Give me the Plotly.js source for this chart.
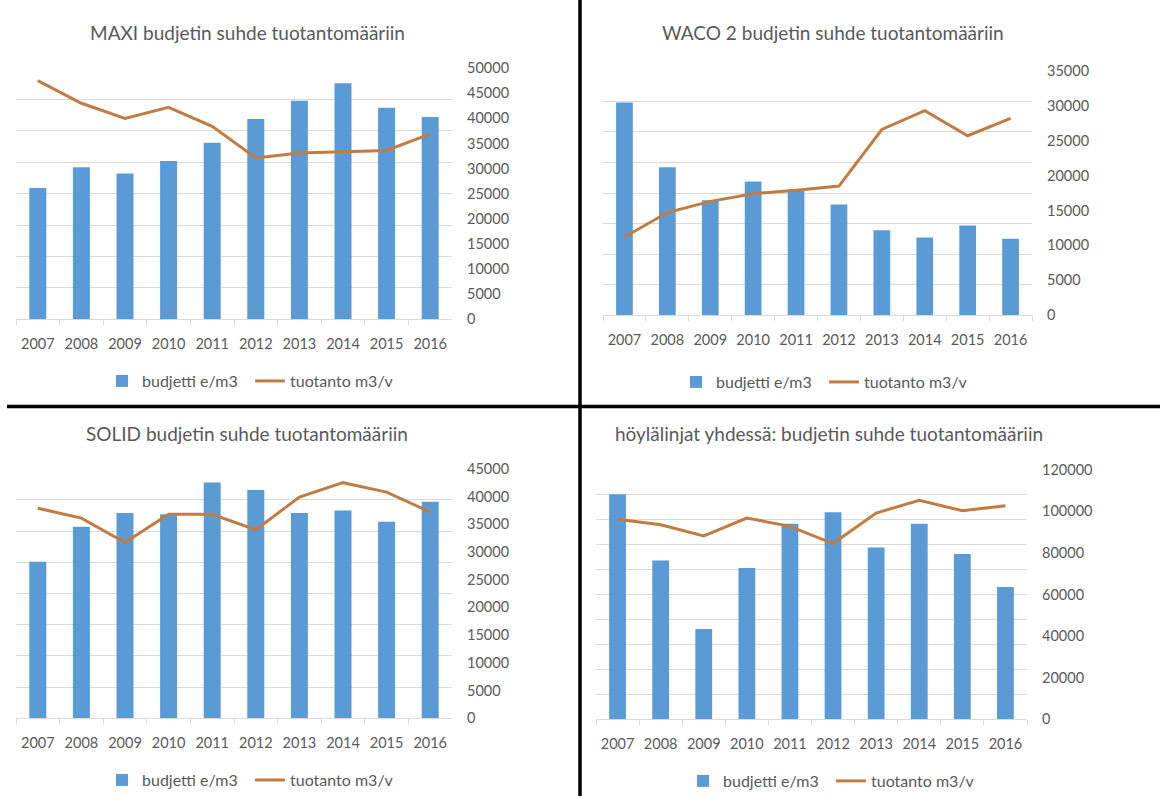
<!DOCTYPE html>
<html>
<head>
<meta charset="utf-8">
<script src="https://cdn.plot.ly/plotly-3.0.1.min.js"></script>
<style>html,body{margin:0;padding:0;background:#fff;}#chart{width:1160px;height:798px;}</style>
</head>
<body>
<div id="chart"></div>
<script>
// ---- data ----
const years = ['2007','2008','2009','2010','2011','2012','2013','2014','2015','2016'];
const titles = [
  'MAXI budjetin suhde tuotantomääriin',
  'WACO 2 budjetin suhde tuotantomääriin',
  'SOLID budjetin suhde tuotantomääriin',
  'höylälinjat yhdessä: budjetin suhde tuotantomääriin'
];
const barName = 'budjetti e/m3';
const lineName = 'tuotanto m3/v';
// budjetti e/m3 (hidden primary axis)
const maxiBudget  = [20.9, 24.2, 23.2, 25.2, 28.1, 31.9, 34.8, 37.6, 33.7, 32.2];
const wacoBudget  = [34.8, 24.2, 18.8, 21.9, 20.6, 18.1, 13.9, 12.7, 14.7, 12.5];
const solidBudget = [25.1, 30.7, 32.9, 32.7, 37.8, 36.6, 32.9, 33.3, 31.5, 34.7];
const allBudget   = [45.1, 31.8, 18.1, 30.3, 39.2, 41.5, 34.4, 39.2, 33.1, 26.5];
// tuotanto m3/v (right axis)
const maxiProd  = [47500, 43000, 40000, 42200, 38400, 32100, 33100, 33400, 33600, 36900];
const wacoProd  = [11200, 14700, 16300, 17400, 17900, 18500, 26600, 29300, 25700, 28200];
const solidProd = [37900, 36100, 31700, 36800, 36800, 34000, 39900, 42500, 40800, 37200];
const allProd   = [96200, 93600, 88200, 96800, 92800, 84500, 99200, 105300, 100300, 102700];
// axis settings
const budgetMax = [40, 40, 40, 50];
const prodMax   = [50000, 35000, 45000, 120000];
const prodStep  = [5000, 5000, 5000, 20000];

const budgets = [maxiBudget, wacoBudget, solidBudget, allBudget];
const prods = [maxiProd, wacoProd, solidProd, allProd];

// ---- layout geometry (pixels) ----
const W = 1160, H = 798;
const panels = [
  {x0: 16,  x1: 452,  top: 68.3, bot: 320, titleX: 247, titleY: 33,  legX: 102, legY: 382},
  {x0: 603, x1: 1032, top: 71,   bot: 316, titleX: 833, titleY: 33,  legX: 676, legY: 383},
  {x0: 16,  x1: 452,  top: 470,  bot: 720, titleX: 247, titleY: 435, legX: 102, legY: 782},
  {x0: 596, x1: 1027, top: 471,  bot: 721, titleX: 829, titleY: 435, legX: 683, legY: 783}
];
const px = v => v / W;
const py = v => 1 - v / H;

const FONT = 'Lato, "Open Sans", sans-serif';
const TXT = '#595959';
const BAR = '#5B9BD5';
const LINE = '#C17C44';

const data = [];
const layout = {
  width: W, height: H,
  margin: {l: 0, r: 0, t: 0, b: 0},
  paper_bgcolor: '#fff', plot_bgcolor: '#fff',
  font: {family: FONT, color: TXT, size: 14},
  showlegend: true,
  bargap: 0.61,
  annotations: [],
  shapes: [
    {type: 'line', xref: 'paper', yref: 'paper', x0: px(580), x1: px(580), y0: 0, y1: 1, line: {color: '#000', width: 3.5}},
    {type: 'line', xref: 'paper', yref: 'paper', x0: px(7), x1: 1, y0: py(407.5), y1: py(407.5), line: {color: '#000', width: 3.5}}
  ]
};

panels.forEach((p, i) => {
  const xa = 'x' + (i === 0 ? '' : i + 1);
  const ya = 'y' + (2 * i === 0 ? '' : 2 * i + 1);
  const ya2 = 'y' + (2 * i + 2);
  const legKey = i === 0 ? 'legend' : 'legend' + (i + 1);
  data.push({
    type: 'bar', x: years, y: budgets[i], name: barName,
    xaxis: xa, yaxis: ya, legend: legKey,
    marker: {color: BAR, line: {width: 0}},
    hoverinfo: 'x+y'
  });
  data.push({
    type: 'scatter', mode: 'lines', x: years, y: prods[i], name: lineName,
    xaxis: xa, yaxis: ya2, legend: legKey,
    line: {color: LINE, width: 3}
  });
  const xKey = 'xaxis' + (i === 0 ? '' : i + 1);
  const yKey = 'yaxis' + (2 * i === 0 ? '' : 2 * i + 1);
  const y2Key = 'yaxis' + (2 * i + 2);
  layout[xKey] = {
    domain: [px(p.x0), px(p.x1)], anchor: ya, type: 'category',
    showline: true, linecolor: '#d9d9d9', linewidth: 1,
    ticks: 'outside', tickson: 'boundaries', ticklen: 5, tickcolor: '#d9d9d9',
    tickangle: 0, ticklabelstandoff: 11,
    showgrid: false, zeroline: false, fixedrange: true,
    tickfont: {family: FONT, size: 14.5, color: TXT}
  };
  layout[yKey] = {
    domain: [py(p.bot), py(p.top)], anchor: xa,
    range: [0, budgetMax[i]], dtick: 5, showticklabels: false,
    showgrid: true, gridcolor: '#d9d9d9', gridwidth: 1, zeroline: false,
    ticks: '', fixedrange: true
  };
  layout[y2Key] = {
    overlaying: ya, anchor: xa, side: 'right',
    range: [0, prodMax[i]], dtick: prodStep[i], tickformat: 'd',
    showgrid: false, zeroline: false,
    ticks: '', ticklabelstandoff: 14, fixedrange: true,
    tickfont: {family: FONT, size: 14.5, color: TXT}
  };
  layout[legKey] = {
    orientation: 'h', x: px(p.legX), xanchor: 'left',
    y: py(p.legY), yanchor: 'middle', xref: 'paper', yref: 'paper',
    font: {family: FONT, size: 16, color: TXT}, itemwidth: 30,
    entrywidth: 103, entrywidthmode: 'pixels',
    bgcolor: 'rgba(0,0,0,0)', traceorder: 'normal'
  };
  layout.annotations.push({
    text: titles[i], xref: 'paper', yref: 'paper',
    x: px(p.titleX), y: py(p.titleY), xanchor: 'center', yanchor: 'middle',
    showarrow: false, font: {family: FONT, size: 19, color: TXT}
  });
});

Plotly.newPlot('chart', data, layout, {displayModeBar: false, staticPlot: true});
</script>
</body>
</html>
